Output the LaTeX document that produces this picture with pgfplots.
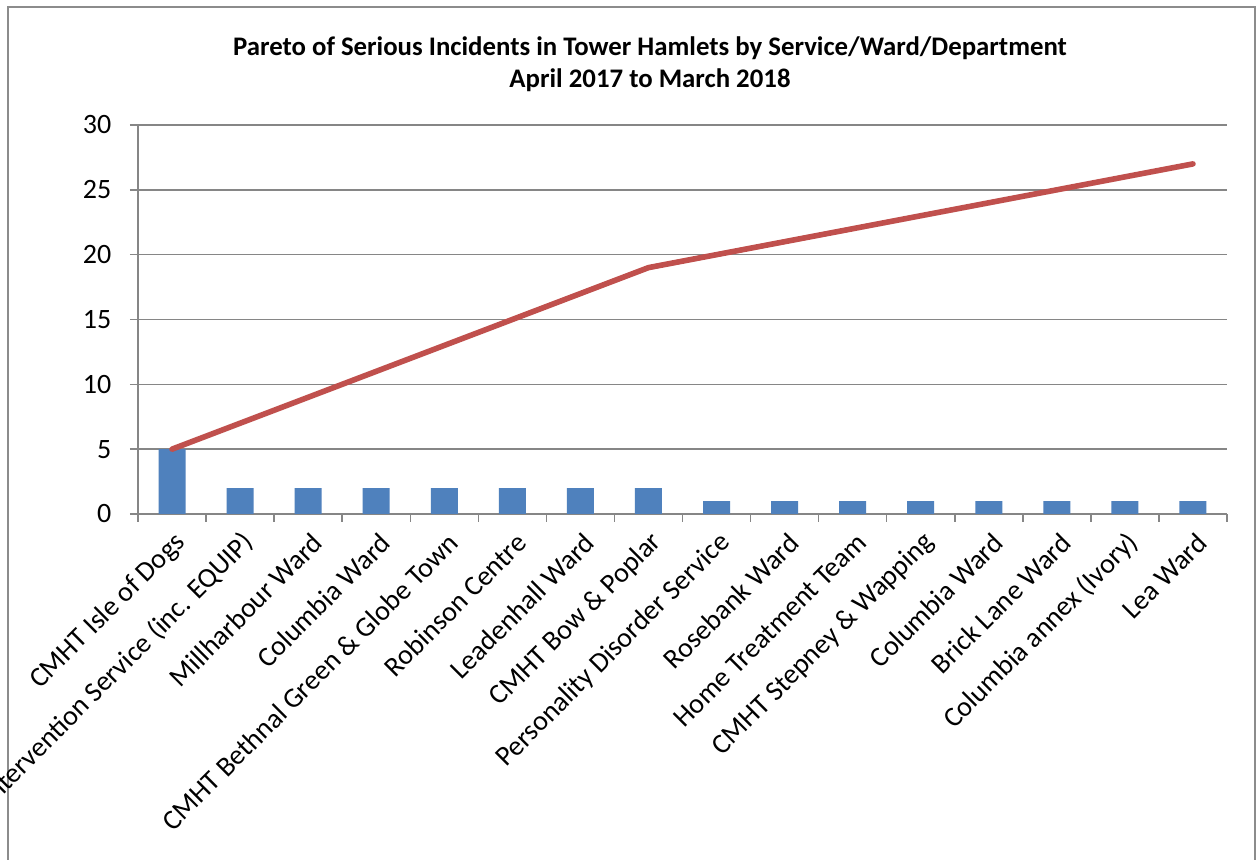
\documentclass[border=0pt]{standalone}
\usepackage{fontspec}
\setmainfont{Carlito}
\usepackage{pgfplots}
\usepackage{pgfplotstable}
\pgfplotsset{compat=1.18}

\definecolor{barblue}{HTML}{4F81BD}
\definecolor{linered}{HTML}{C0504D}
\definecolor{gridgray}{HTML}{868686}
\definecolor{framegray}{HTML}{8C8C8C}

% incidents per service/ward and the running total
\pgfplotstableread{
idx count cum
0  5 5
1  2 7
2  2 9
3  2 11
4  2 13
5  2 15
6  2 17
7  2 19
8  1 20
9  1 21
10 1 22
11 1 23
12 1 24
13 1 25
14 1 26
15 1 27
}\incidents

\begin{document}
\begin{tikzpicture}
\clip (0,0) rectangle (628pt,430pt);
\fill[white] (0,0) rectangle (628pt,430pt);
\draw[framegray, line width=0.8pt] (4pt,-5pt) -- (4pt,426.5pt) -- (627.5pt,426.5pt) -- (627.5pt,-5pt);
\node[font=\bfseries\fontsize{13.4}{16.2}\selectfont, align=center] at (325pt,398pt)
  {Pareto of Serious Incidents in Tower Hamlets by Service/Ward/Department\\April 2017 to March 2018};
\begin{axis}[
  at={(69pt,173pt)}, anchor=south west,
  width=544.5pt, height=194.5pt, scale only axis,
  xmin=-0.5, xmax=15.5, ymin=0, ymax=30,
  ytick={0,5,...,30},
  xtick={0,...,15},
  minor xtick={-0.5,0.5,...,15.5},
  xticklabels={CMHT Isle of Dogs, Early Intervention Service (inc. EQUIP), Millharbour Ward,
    Columbia Ward, CMHT Bethnal Green \& Globe Town, Robinson Centre, Leadenhall Ward,
    CMHT Bow \& Poplar, Personality Disorder Service, Rosebank Ward, Home Treatment Team,
    CMHT Stepney \& Wapping, Columbia Ward, Brick Lane Ward, Columbia annex (Ivory), Lea Ward},
  axis lines*=left,
  axis line style={gridgray, line width=0.75pt},
  ymajorgrids, grid style={gridgray, line width=0.75pt},
  tick align=outside,
  major tick length=4pt, minor tick length=4pt,
  tick style={gridgray, line width=0.75pt},
  major x tick style={draw=none},
  xticklabel style={rotate=45, anchor=east, font=\fontsize{14}{16}\selectfont,
    xshift=1pt, yshift=-9pt},
  yticklabel style={font=\fontsize{14}{16}\selectfont, xshift=-5.8pt},
  /pgf/number format/assume math mode=true,
]
\addplot[ybar, bar width=13.5pt, fill=barblue, draw=none] table[x=idx, y=count] {\incidents};
\addplot[linered, line width=2.8pt, line cap=round, line join=round, mark=none] table[x=idx, y=cum] {\incidents};
\end{axis}
\end{tikzpicture}
\end{document}
